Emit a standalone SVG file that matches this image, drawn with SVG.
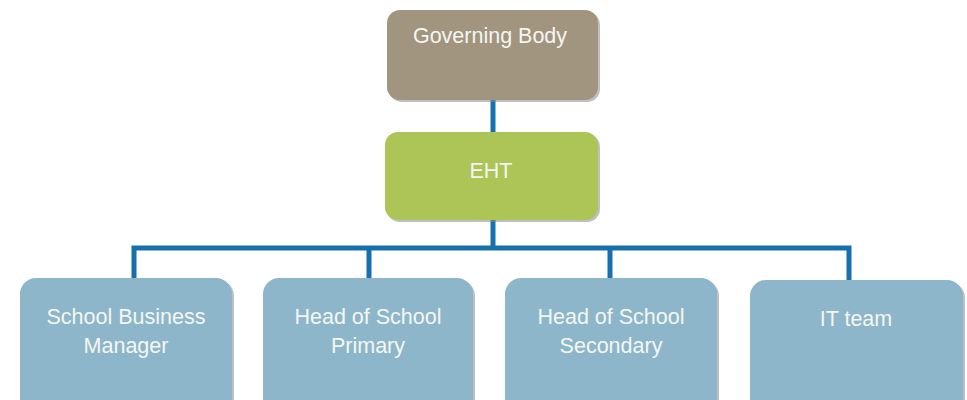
<svg xmlns="http://www.w3.org/2000/svg" width="967" height="400" viewBox="0 0 967 400">
<defs>
<style>
.box{stroke:none;}
.sh{fill:#8a8a8a;opacity:0.55;}
.t{font-family:"Liberation Sans",Arial,sans-serif;font-size:21.5px;fill:#f4f6f0;text-anchor:middle;}
.c{stroke:#1670AD;stroke-width:5;fill:none;stroke-linecap:butt;stroke-linejoin:miter;}
</style>
</defs>
<rect width="967" height="400" fill="#ffffff"/>
<g id="connectors">
<line class="c" x1="493" y1="100" x2="493" y2="133"/>
<line class="c" x1="493" y1="220" x2="493" y2="248"/>
<polyline class="c" points="134,279 134,248 849,248 849,281"/>
<line class="c" x1="369" y1="248" x2="369" y2="279"/>
<line class="c" x1="610" y1="248" x2="610" y2="279"/>
</g>
<g id="governing-body">
<rect class="sh" x="389" y="12" width="211" height="90" rx="13"/>
<rect class="box" x="387" y="10" width="211" height="90" rx="13" fill="#A29580"/>
<text class="t" x="490" y="43">Governing Body</text>
</g>
<g id="eht">
<rect class="sh" x="387" y="134" width="213" height="88" rx="13"/>
<rect class="box" x="385" y="132" width="213" height="88" rx="13" fill="#ADC456"/>
<text class="t" x="491" y="178">EHT</text>
</g>
<g id="school-business-manager">
<rect class="sh" x="22" y="280" width="212" height="140" rx="16"/>
<rect class="box" x="20" y="278" width="212" height="140" rx="16" fill="#8DB6CA"/>
<text class="t" x="126" y="324">School Business</text>
<text class="t" x="126" y="353">Manager</text>
</g>
<g id="head-primary">
<rect class="sh" x="265" y="280" width="210" height="140" rx="16"/>
<rect class="box" x="263" y="278" width="210" height="140" rx="16" fill="#8DB6CA"/>
<text class="t" x="368" y="324">Head of School</text>
<text class="t" x="368" y="353">Primary</text>
</g>
<g id="head-secondary">
<rect class="sh" x="507" y="280" width="212" height="140" rx="16"/>
<rect class="box" x="505" y="278" width="212" height="140" rx="16" fill="#8DB6CA"/>
<text class="t" x="611" y="324">Head of School</text>
<text class="t" x="611" y="353">Secondary</text>
</g>
<g id="it-team">
<rect class="sh" x="752" y="282" width="213" height="140" rx="16"/>
<rect class="box" x="750" y="280" width="213" height="140" rx="16" fill="#8DB6CA"/>
<text class="t" x="856" y="326">IT team</text>
</g>
</svg>
